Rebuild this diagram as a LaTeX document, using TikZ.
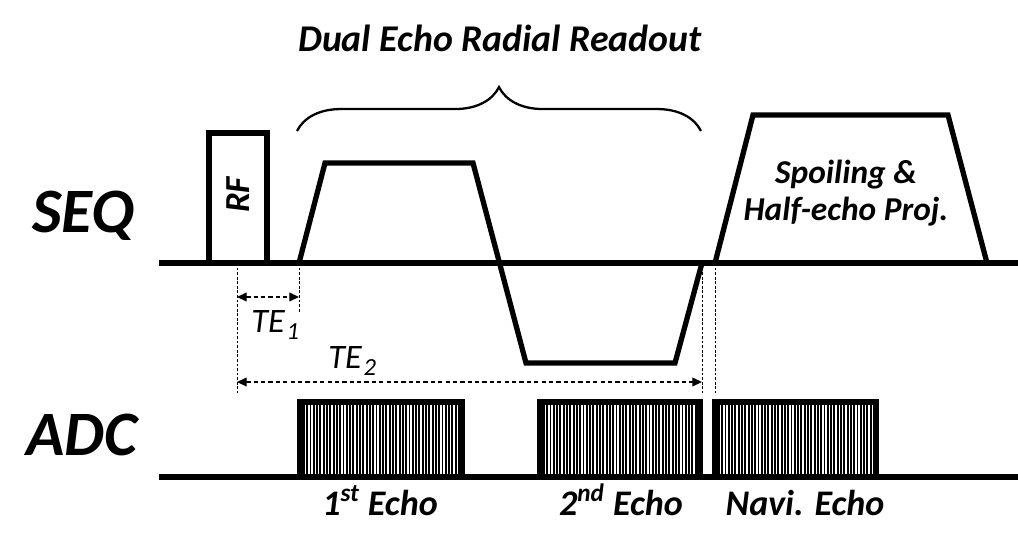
\documentclass[tikz,border=0pt]{standalone}
\usepackage{fontspec}
\setmainfont{Carlito}
\usetikzlibrary{arrows.meta,positioning,calc,decorations.pathreplacing}
\newcommand{\tesub}[1]{\kern1pt\raisebox{-4.5pt}{\fontsize{14}{14}\selectfont #1}}

\begin{document}
\begin{tikzpicture}[x=0.02cm,y=-0.02cm,
 every node/.style={font=\fontsize{20.5}{23}\selectfont\bfseries\itshape,inner sep=0pt},
 wave/.style={line width=3pt},
 axislabel/.style={font=\fontsize{36}{42}\selectfont\bfseries\itshape,anchor=base},
 telabel/.style={font=\fontsize{19.5}{22}\selectfont\itshape,anchor=base west},
 guide/.style={line width=0.5pt,dash pattern=on 1.6pt off 1pt},
 span/.style={line width=0.7pt,dash pattern=on 2.4pt off 1.8pt,{Triangle[length=5.5pt,width=5pt]}-{Triangle[length=5.5pt,width=5pt]}},
 stripe/.style={white,line width=0.8pt}]
\useasboundingbox (0,0) rectangle (1018,535);
% time axes
\coordinate (seqL) at (159,263); \coordinate (seqR) at (1018,263);
\coordinate (adcL) at (159,477); \coordinate (adcR) at (1018,477);
\draw[wave] (seqL)--(seqR) (adcL)--(adcR);
\node[axislabel] (seq) at (83,232) {SEQ};
\node[axislabel] (adc) at (82,455) {ADC};
% RF pulse
\draw[wave] (209,263)|-(267,133)--(267,263);
\node[rotate=90,font=\fontsize{20}{22}\selectfont\bfseries\itshape] (rf) at (238,195) {RF};
% readout and spoiler gradients
\draw[wave] (299,263)--(325,163)--(473,163)--(526,363)--(675,363)--(702,263);
\draw[wave] (715,263)--(753,115)--(948,115)--(987,263);
\node[align=center,font=\fontsize{19}{21.5}\selectfont\bfseries\itshape] (spoil) at (846,193) {Spoiling \&\\Half-echo Proj.};
% brace and title
\draw[line width=1.3pt,decorate,decoration={brace,amplitude=25pt}] (297,131)--(701,131);
\node[font=\fontsize{21.5}{25}\selectfont\bfseries\itshape] (title) at (500,38) {Dual Echo Radial Readout};
% echo times
\foreach \c/\x/\len in {t0/237/130,t1/299/49,t2/702/130,t3/715/130}{
 \coordinate (\c) at (\x,263); \draw[guide] (\c)--++(0,\len);}
\coordinate (e1a) at (237,297); \coordinate (e1b) at (299,297);
\coordinate (e2a) at (237,382); \coordinate (e2b) at (702,382);
\draw[span] (e1a)--(e1b); \draw[span] (e2a)--(e2b);
\node[telabel] (te1) at (251,332) {TE\tesub{1}};
\node[telabel] (te2) at (328,368) {TE\tesub{2}};
% ADC windows
\foreach \bl/\br/\lx/\nm/\lab in {297/465/380/win1/{1\textsuperscript{st} Echo},
  537/703/621/win2/{2\textsuperscript{nd} Echo},712/879/805/win3/{Navi. Echo}}{
 \fill (\bl,399) rectangle (\br,477);
 \pgfmathtruncatemacro\n{(\br-\bl-15)/3.3}
 \foreach \k in {0,...,\n} \draw[stripe] ({\bl+8.5+\k*3.3},405)--({\bl+8.5+\k*3.3},474);
 \node[anchor=base] (\nm) at (\lx,515) {\lab};}
\end{tikzpicture}
\end{document}
